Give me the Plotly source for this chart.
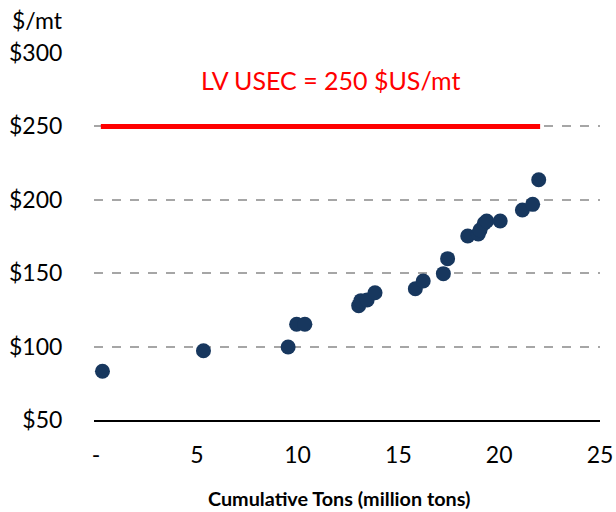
import plotly.graph_objects as go

# Data
cum_tons = [0.32, 5.33, 9.53, 9.95, 10.36, 13.03, 13.14, 13.45, 13.84, 15.84, 16.23,
            17.23, 17.44, 18.44, 18.96, 19.05, 19.26, 19.38, 20.05, 21.15, 21.66, 21.96]
cost = [83.2, 97.2, 99.7, 115.2, 115.2, 127.9, 131.3, 131.7, 136.7, 139.4, 144.7,
        149.7, 159.9, 175.3, 176.7, 179.4, 184.0, 185.6, 185.6, 193.1, 196.9, 213.7]
lv_x = [0.24, 22.03]
lv_y = [250, 250]
x_tickvals = [0, 5, 10, 15, 20, 25]
x_ticktext = ["-", "5", "10", "15", "20", "25"]
y_tickvals = [50, 100, 150, 200, 250, 300]
y_ticktext = ["$50", "$100", "$150", "$200", "$250", "$300"]

FONT = "Lato"

fig = go.Figure()
fig.add_trace(go.Scatter(x=lv_x, y=lv_y, mode="lines",
                         line=dict(color="#FF0000", width=5), showlegend=False,
                         hoverinfo="skip"))
fig.add_trace(go.Scatter(x=cum_tons, y=cost, mode="markers",
                         marker=dict(color="#17375E", size=15, line=dict(width=0)),
                         showlegend=False))

fig.add_annotation(x=11.65, y=281.6, xref="x", yref="y", text="LV USEC = 250 $US/mt",
                   showarrow=False, xanchor="center", yanchor="middle",
                   font=dict(family=FONT, size=25, color="#FF0000"))
fig.add_annotation(x=-0.111, y=1.09, xref="paper", yref="paper", text="$/mt",
                   showarrow=False, xanchor="center", yanchor="middle",
                   font=dict(family=FONT, size=23, color="#000000"))
fig.add_annotation(x=0.484, y=-0.2125, xref="paper", yref="paper",
                   text="<b>Cumulative Tons (million tons)</b>", showarrow=False,
                   xanchor="center", yanchor="middle",
                   font=dict(family=FONT, size=19.8, color="#000000"))

fig.update_layout(
    width=616, height=512,
    margin=dict(l=94, r=16, t=53, b=92),
    paper_bgcolor="white", plot_bgcolor="white",
    font=dict(family=FONT, size=23, color="#000000"),
)
fig.update_xaxes(range=[-0.1, 25], tickvals=x_tickvals, ticktext=x_ticktext,
                 showgrid=False, zeroline=False, showline=True, linecolor="#000000",
                 linewidth=2, ticks="outside", ticklen=13, tickcolor="rgba(0,0,0,0)",
                 tickfont=dict(family=FONT, size=23), automargin=False)
fig.update_yaxes(range=[50, 300], tickvals=y_tickvals, ticktext=y_ticktext,
                 showgrid=True, gridcolor="#A6A6A6", gridwidth=2, griddash="dash",
                 zeroline=False, showline=False, ticks="outside", ticklen=26,
                 tickcolor="rgba(0,0,0,0)", tickfont=dict(family=FONT, size=23),
                 automargin=False)

fig.write_html("out.html", config={"displayModeBar": False},
               post_script="document.body.style.margin='0';document.body.style.overflow='hidden';")
